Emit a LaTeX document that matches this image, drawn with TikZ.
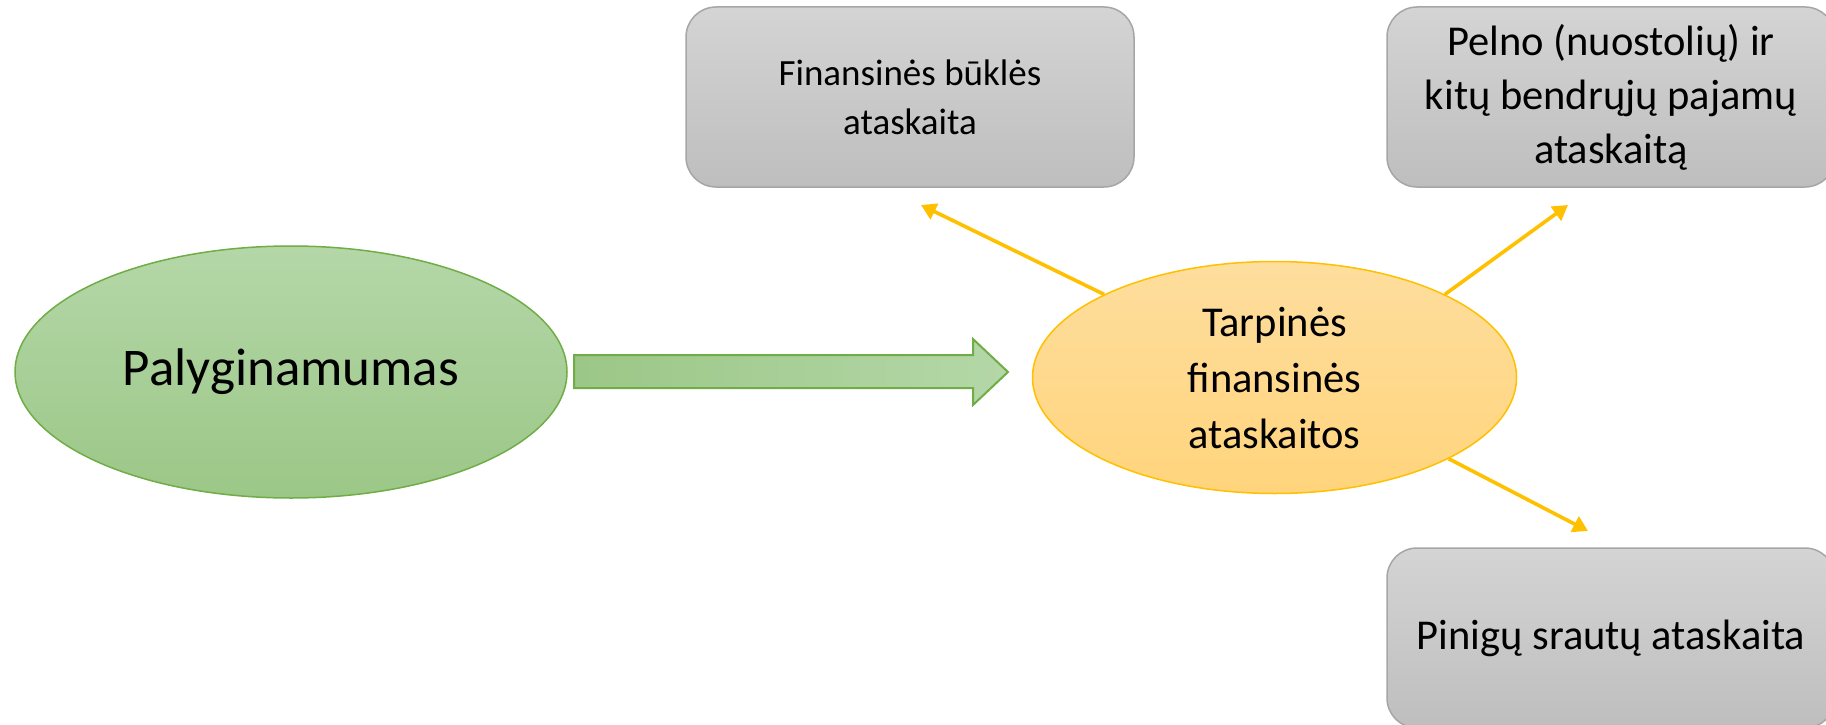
\documentclass[tikz,border=0pt]{standalone}
\usepackage{fontspec}
\setmainfont{Carlito}
\usetikzlibrary{shapes.geometric,arrows.meta}
\definecolor{boxtop}{HTML}{D4D4D4}
\definecolor{boxbot}{HTML}{BEBEBE}
\definecolor{boxline}{HTML}{A6A6A6}
\definecolor{grtop}{HTML}{B5D7A8}
\definecolor{grbot}{HTML}{9BC787}
\definecolor{grline}{HTML}{70AD47}
\definecolor{ortop}{HTML}{FEDE9E}
\definecolor{orbot}{HTML}{FFD47C}
\definecolor{orline}{HTML}{FFC000}
\begin{document}
\begin{tikzpicture}[x=1pt,y=-1pt,
  grayrect/.style={rectangle, rounded corners=30pt, draw=boxline, line width=1.5pt,
    top color=boxtop, bottom color=boxbot, minimum width=448pt, minimum height=180pt,
    align=center, inner sep=0pt},
  txtbig/.style={font=\fontsize{42.5}{54}\selectfont},
  txtsmall/.style={font=\fontsize{37}{49}\selectfont},
  yarrow/.style={draw=orline, line width=3.6pt, -{Triangle[length=15pt,width=17pt]}}
]
\useasboundingbox (0,0) rectangle (1826,725);
\begin{scope}
\clip (0,0) rectangle (1826,725);
\node[grayrect, txtsmall] (b1) at (910,97) {Finansinės būklės\\ataskaita};
\node[grayrect, txtbig] (b2) at (1611,97) {Pelno (nuostolių) ir\\kitų bendrųjų pajamų\\ataskaitą};
\node[grayrect, txtbig] (b3) at (1611,638) {Pinigų srautų ataskaita};
\end{scope}

\node[ellipse, draw=grline, line width=1.5pt, top color=grtop, bottom color=grbot,
  minimum width=552pt, minimum height=252pt, inner sep=0pt,
  font=\fontsize{53}{60}\selectfont] (p) at (291,372) {Palyginamumas};

\node[ellipse, draw=orline, line width=1.5pt, top color=ortop, bottom color=orbot,
  minimum width=484pt, minimum height=232pt, inner sep=0pt, align=center,
  font=\fontsize{42.5}{56}\selectfont] (o) at (1274.5,377.5) {Tarpinės\\finansinės\\ataskaitos};

\shade[left color=grbot, right color=grtop, draw=grline, line width=2pt, line join=miter]
  (574,355) -- (973,355) -- (973,339) -- (1008,372) -- (973,405) -- (973,388) -- (574,388) -- cycle;

\coordinate (t1) at (921,205);
\coordinate (t2) at (1568,205);
\coordinate (t3) at (1588,531);
\draw[yarrow] (o.154) -- (t1);
\draw[yarrow] (o.26) -- (t2);
\draw[yarrow] (o.-25) -- (t3);
\end{tikzpicture}
\end{document}
